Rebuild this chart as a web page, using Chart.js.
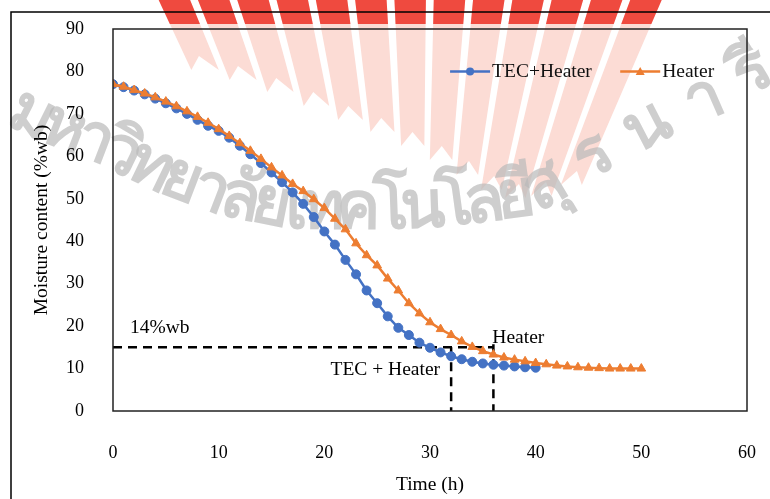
<!DOCTYPE html>
<html>
<head>
<meta charset="utf-8">
<script src="https://cdn.jsdelivr.net/npm/chart.js@4.4.0/dist/chart.umd.min.js"></script>
<style>
  html, body { margin: 0; padding: 0; background: #fff; }
  #wrap { width: 770px; height: 499px; }
</style>
</head>
<body>
<div id="wrap"><canvas id="chart" width="770" height="499"></canvas></div>
<script>
// drying curves, moisture content (%wb) read hour by hour
var tecHours = [];
for (var h = 0; h <= 40; h++) tecHours.push(h);
var heaterHours = [];
for (var h2 = 0; h2 <= 50; h2++) heaterHours.push(h2);

var tecHeater = [77, 76.3, 75.5, 74.6, 73.6, 72.5, 71.3, 70.0, 68.6, 67.2,
    66.0, 64.4, 62.5, 60.5, 58.4, 56.2, 53.9, 51.5, 48.8, 45.7,
    42.3, 39.2, 35.6, 32.2, 28.4, 25.4, 22.3, 19.6, 17.9, 16.1,
    14.9, 13.8, 12.9, 12.2, 11.6, 11.2, 10.9, 10.7, 10.5, 10.3, 10.2];
var heaterOnly = [77, 76.4, 75.6, 74.8, 73.9, 72.9, 71.8, 70.6, 69.3, 67.9,
    66.4, 64.8, 63.1, 61.3, 59.4, 57.4, 55.5, 53.5, 51.8, 49.9,
    47.8, 45.3, 42.8, 39.5, 36.7, 34.3, 31.2, 28.4, 25.4, 23.0,
    20.9, 19.3, 17.9, 16.4, 15.1, 14.1, 13.3, 12.6, 12.1, 11.7,
    11.3, 11.0, 10.7, 10.5, 10.3, 10.2, 10.1, 10.0, 10.0, 10.0, 10.0];

var xTicks = [0, 10, 20, 30, 40, 50, 60];
var yTicks = [0, 10, 20, 30, 40, 50, 60, 70, 80, 90];

// reference level and the hours each method reaches it
var targetLevel = 15;
var tecDoneHour = 32;
var heaterDoneHour = 36;

var watermarkText = 'มหาวิทยาลัยเทคโนโลยีสุรนารี';

var BLUE = '#4472c4', ORANGE = '#ed7d31';
var FONT = '"Liberation Serif", "Times New Roman", serif';
var TEXT_SIZE = 19.5;

function toPoints(xs, ys) {
    return ys.map(function(v, i) { return {x: xs[i], y: v}; });
}

function drawFan(ctx) {
    var cx = 420, cy = 560;
    var tops = [150, 190, 230, 270, 310, 350, 390, 430, 470, 510, 550, 590, 630, 670];
    var bottoms = [70, 80, 92, 106, 120, 132, 146, 160, 175, 190, 198, 196, 185];
    function pt(xt, yb) {
        return [cx + (xt - cx) * (cy - yb) / (cy + 10), yb];
    }
    function rays() {
        for (var i = 0; i < tops.length - 1; i++) {
            var xa = tops[i] + 4, xb = tops[i + 1] - 4, xm = (xa + xb) / 2;
            var a = pt(xa, bottoms[i]), b = pt(xb, bottoms[i]), m = pt(xm, bottoms[i] - 14);
            var at = pt(xa, -10), bt = pt(xb, -10);
            ctx.beginPath();
            ctx.moveTo(at[0], at[1]);
            ctx.lineTo(a[0], a[1]);
            ctx.lineTo(m[0], m[1]);
            ctx.lineTo(b[0], b[1]);
            ctx.lineTo(bt[0], bt[1]);
            ctx.closePath();
            ctx.fill();
        }
    }
    ctx.save();
    ctx.fillStyle = '#fcdcd5';
    rays();
    ctx.beginPath();
    ctx.rect(0, 0, 770, 24);
    ctx.clip();
    ctx.fillStyle = '#ef4a3f';
    rays();
    ctx.restore();
}

// the faded university name runs along a bent path behind the plot
var markPath = [[10, 105], [40, 120], [100, 143], [160, 172], [220, 195], [290, 209],
    [370, 210], [450, 207], [530, 196], [570, 172], [610, 146], [660, 120], [710, 98],
    [760, 68], [810, 40]];

function drawWatermark(ctx) {
    var clusters = watermarkText.match(/.[\u0E31\u0E34-\u0E3A\u0E47-\u0E4E]*/g);
    var segLen = [0];
    for (var p = 1; p < markPath.length; p++) {
        var dx = markPath[p][0] - markPath[p - 1][0], dy = markPath[p][1] - markPath[p - 1][1];
        segLen.push(segLen[p - 1] + Math.sqrt(dx * dx + dy * dy));
    }
    function at(s) {
        for (var q = 1; q < markPath.length; q++) {
            if (s <= segLen[q] || q === markPath.length - 1) {
                var a = markPath[q - 1], b = markPath[q];
                var t = (s - segLen[q - 1]) / (segLen[q] - segLen[q - 1]);
                return [a[0] + (b[0] - a[0]) * t, a[1] + (b[1] - a[1]) * t,
                    Math.atan2(b[1] - a[1], b[0] - a[0])];
            }
        }
    }
    function sForX(x) {
        for (var q = 1; q < markPath.length; q++) {
            var a = markPath[q - 1], b = markPath[q];
            if (x <= b[0]) return segLen[q - 1] + (segLen[q] - segLen[q - 1]) * (x - a[0]) / (b[0] - a[0]);
        }
        return segLen[segLen.length - 1];
    }
    ctx.save();
    ctx.font = 'bold 66px "Noto Sans", sans-serif';
    ctx.fillStyle = 'rgba(185,185,185,0.7)';
    ctx.textAlign = 'center';
    ctx.textBaseline = 'middle';
    var widths = clusters.map(function(c) { return ctx.measureText(c).width; });
    var centers = [], s = 0;
    for (var i = 0; i < clusters.length; i++) {
        centers.push(s + widths[i] / 2);
        s += widths[i];
    }
    var s3 = sForX(122), s17 = sForX(545), s21 = sForX(752);
    var k1 = (s17 - s3) / (centers[17] - centers[3]);
    var k2 = (s21 - s17) / (centers[21] - centers[17]);
    for (var j = 0; j < clusters.length; j++) {
        var sj = j <= 17 ? s3 + (centers[j] - centers[3]) * k1 : s17 + (centers[j] - centers[17]) * k2;
        var pos = at(sj);
        ctx.save();
        ctx.translate(pos[0], pos[1]);
        ctx.rotate(pos[2]);
        ctx.fillText(clusters[j], 0, 0);
        ctx.restore();
    }
    ctx.restore();
}

var decorPlugin = {
    id: 'decor',
    beforeDraw: function(chart) {
        var ctx = chart.ctx;
        ctx.save();
        ctx.fillStyle = '#fff';
        ctx.fillRect(0, 0, chart.width, chart.height);
        ctx.restore();
        drawFan(ctx);
        drawWatermark(ctx);
    },
    beforeDatasetsDraw: function(chart) {
        var ctx = chart.ctx, xs = chart.scales.x, ys = chart.scales.y;
        var yT = ys.getPixelForValue(targetLevel), yB = ys.getPixelForValue(0);
        var x1 = xs.getPixelForValue(tecDoneHour), x2 = xs.getPixelForValue(heaterDoneHour);
        ctx.save();
        ctx.strokeStyle = '#000';
        ctx.lineWidth = 2.5;
        ctx.setLineDash([9, 6]);
        ctx.beginPath();
        ctx.moveTo(xs.getPixelForValue(0), yT);
        ctx.lineTo(x2, yT);
        ctx.moveTo(x1, yT);
        ctx.lineTo(x1, yB);
        ctx.moveTo(x2, yT - 3);
        ctx.lineTo(x2, yB);
        ctx.stroke();
        ctx.restore();
    },
    afterDraw: function(chart) {
        var ctx = chart.ctx, a = chart.chartArea, xs = chart.scales.x, ys = chart.scales.y;
        ctx.save();
        // outer frame and plot box
        ctx.strokeStyle = '#000';
        ctx.lineWidth = 1.5;
        ctx.beginPath();
        ctx.moveTo(11, chart.height);
        ctx.lineTo(11, 12);
        ctx.lineTo(chart.width, 12);
        ctx.stroke();
        ctx.strokeStyle = '#222';
        ctx.strokeRect(a.left, a.top, a.right - a.left, a.bottom - a.top);

        // annotations
        ctx.fillStyle = '#000';
        ctx.font = TEXT_SIZE + 'px ' + FONT;
        ctx.textBaseline = 'middle';
        ctx.textAlign = 'left';
        ctx.fillText('14%wb', xs.getPixelForValue(1.6), ys.getPixelForValue(19.7));
        ctx.fillText('Heater', xs.getPixelForValue(35.9), ys.getPixelForValue(17.2));
        ctx.textAlign = 'right';
        ctx.fillText('TEC + Heater', xs.getPixelForValue(30.95), ys.getPixelForValue(9.6));

        // legend
        var ly = ys.getPixelForValue(80);
        var items = [
            {label: 'TEC+Heater', color: BLUE, style: 'circle', x0: 31.9},
            {label: 'Heater', color: ORANGE, style: 'triangle', x0: 48.0}
        ];
        items.forEach(function(it) {
            var lx = xs.getPixelForValue(it.x0);
            ctx.strokeStyle = it.color;
            ctx.fillStyle = it.color;
            ctx.lineWidth = 2.5;
            ctx.beginPath();
            ctx.moveTo(lx, ly);
            ctx.lineTo(lx + 40, ly);
            ctx.stroke();
            ctx.beginPath();
            if (it.style === 'circle') {
                ctx.arc(lx + 20, ly, 4, 0, Math.PI * 2);
            } else {
                ctx.moveTo(lx + 20, ly - 4.5);
                ctx.lineTo(lx + 24.5, ly + 3.5);
                ctx.lineTo(lx + 15.5, ly + 3.5);
                ctx.closePath();
            }
            ctx.fill();
            ctx.fillStyle = '#111';
            ctx.textAlign = 'left';
            ctx.fillText(it.label, lx + 42, ly);
        });
        ctx.restore();
    }
};

var chart = new Chart(document.getElementById('chart').getContext('2d'), {
    type: 'line',
    data: {
        datasets: [
            {
                label: 'TEC+Heater',
                data: toPoints(tecHours, tecHeater),
                borderColor: BLUE,
                backgroundColor: BLUE,
                borderWidth: 2.5,
                pointStyle: 'circle',
                pointRadius: 4.5,
                pointBorderWidth: 1,
                tension: 0,
                order: 1
            },
            {
                label: 'Heater',
                data: toPoints(heaterHours, heaterOnly),
                borderColor: ORANGE,
                backgroundColor: ORANGE,
                borderWidth: 2.5,
                pointStyle: 'triangle',
                pointRadius: 5,
                pointBorderWidth: 1,
                tension: 0,
                order: 0
            }
        ]
    },
    options: {
        responsive: false,
        animation: false,
        devicePixelRatio: 1,
        layout: { padding: { left: 0, top: 29, right: 23, bottom: 0 } },
        plugins: {
            legend: { display: false },
            tooltip: { enabled: false }
        },
        scales: {
            x: {
                type: 'linear',
                min: 0,
                max: 60,
                afterBuildTicks: function(s) { s.ticks = xTicks.map(function(v) { return {value: v}; }); },
                afterFit: function(s) {
                    s.height = 88;
                    s.paddingLeft = 0;
                    s.paddingRight = 0;
                },
                grid: { display: false, drawTicks: false },
                border: { display: false },
                ticks: { color: '#000', padding: 31, font: { family: FONT, size: 18 } },
                title: {
                    display: true,
                    text: 'Time (h)',
                    color: '#000',
                    padding: { top: 0, bottom: 2 },
                    font: { family: FONT, size: TEXT_SIZE }
                }
            },
            y: {
                min: 0,
                max: 90,
                afterBuildTicks: function(s) { s.ticks = yTicks.map(function(v) { return {value: v}; }); },
                afterFit: function(s) {
                    s.width = 113;
                    s.paddingTop = 0;
                    s.paddingBottom = 0;
                },
                grid: { display: false, drawTicks: false },
                border: { display: false },
                ticks: { color: '#000', padding: 29, font: { family: FONT, size: 18 } },
                title: {
                    display: true,
                    text: 'Moisture content (%wb)',
                    color: '#000',
                    padding: { top: 30, bottom: 0 },
                    font: { family: FONT, size: TEXT_SIZE }
                }
            }
        }
    },
    plugins: [decorPlugin]
});
</script>
</body>
</html>
